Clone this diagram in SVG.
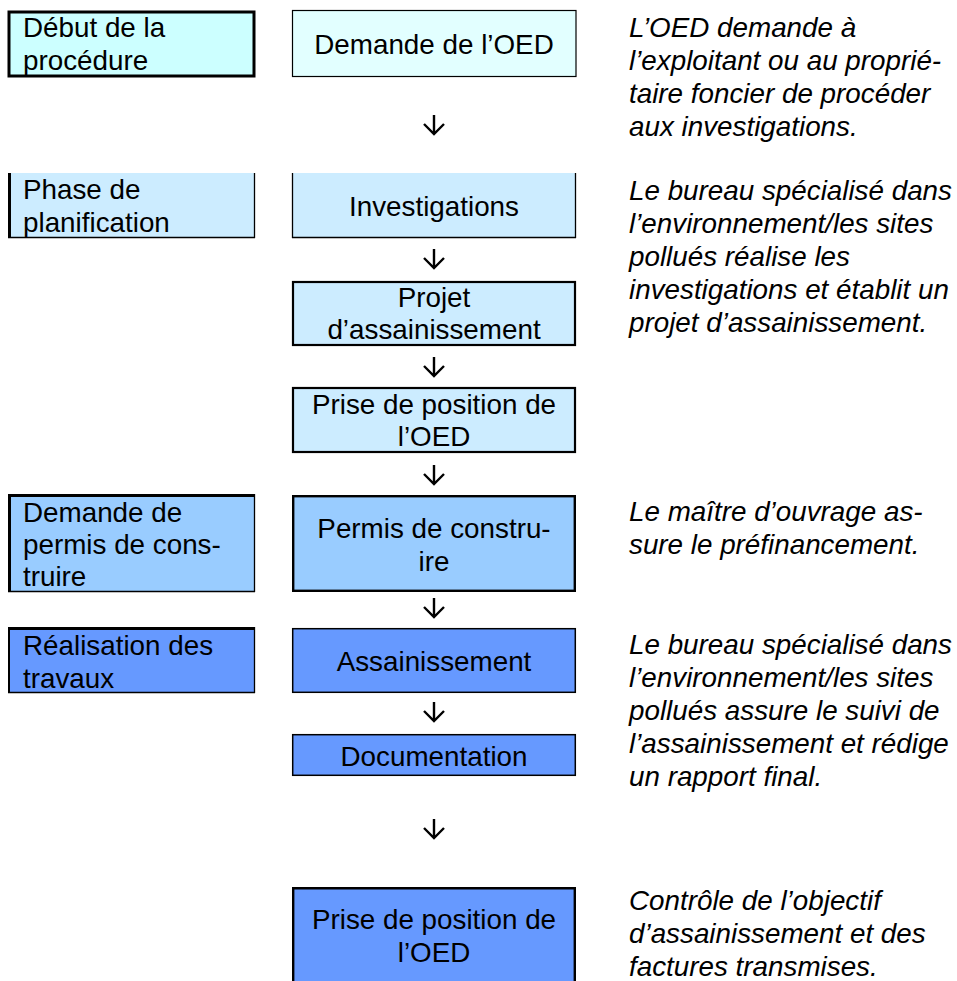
<svg xmlns="http://www.w3.org/2000/svg" width="957" height="981" viewBox="0 0 957 981">
<style>
text{font-family:"Liberation Sans",Arial,sans-serif;font-size:27.8px;fill:#000}
.c{text-anchor:middle}
.i{font-style:italic}
.b{fill:none;stroke:#000}
.c1{fill:#CCFFFF}.c0{fill:#E2FFFF}.c2{fill:#CCECFF}.c3{fill:#99CCFF}.c4{fill:#6699FF}
.arr{fill:none;stroke:#000;stroke-width:2.4}
</style>
<rect width="957" height="981" fill="#fff"/>
<g id="debut">
<rect class="c1" x="8" y="11" width="247" height="66"/>
<rect class="b" x="9" y="12" width="245" height="64" stroke-width="3"/>
<text x="23" y="37">Début de la</text><text x="23" y="70">procédure</text>
</g>
<g id="demande-oed">
<rect class="c0" x="292" y="10" width="284" height="67"/>
<rect class="b" x="292.5" y="10.5" width="283.5" height="66" stroke-width="1.2"/>
<text class="c" x="434" y="54">Demande de l’OED</text>
</g>
<g id="phase">
<rect class="c2" x="8" y="173" width="247" height="65"/>
<path class="b" d="M9.5,173V238" stroke-width="3"/><path class="b" d="M254.5,173V238M8,237.5H255" stroke-width="1.3"/>
<text x="23" y="199">Phase de</text><text x="23" y="232">planification</text>
</g>
<g id="investigations">
<rect class="c2" x="292" y="173" width="284" height="65"/>
<path class="b" d="M292.5,173V238M575.5,173V238M292,237.5H576" stroke-width="1.3"/>
<text class="c" x="434" y="216">Investigations</text>
</g>
<g id="projet">
<rect class="c2" x="292" y="281" width="284" height="65"/>
<rect class="b" x="293" y="282" width="282" height="63" stroke-width="2.2"/>
<text class="c" x="434" y="307">Projet</text><text class="c" x="434" y="339">d’assainissement</text>
</g>
<g id="prise1">
<rect class="c2" x="292" y="387" width="284" height="66"/>
<rect class="b" x="293" y="388" width="282" height="64" stroke-width="2.2"/>
<text class="c" x="434" y="414">Prise de position de</text><text class="c" x="434" y="446">l’OED</text>
</g>
<g id="demande-permis">
<rect class="c3" x="8" y="494" width="247" height="98"/>
<path class="b" d="M8,495.5H255M9.5,494V592" stroke-width="3"/><path class="b" d="M254.5,494V592M8,591.5H255" stroke-width="1.3"/>
<text x="23" y="522">Demande de</text><text x="23" y="554">permis de cons-</text><text x="23" y="586">truire</text>
</g>
<g id="permis">
<rect class="c3" x="292" y="495" width="284" height="97"/>
<rect class="b" x="293.2" y="496.2" width="281.6" height="94.6" stroke-width="2.4"/>
<text class="c" x="434" y="538">Permis de constru-</text><text class="c" x="434" y="571">ire</text>
</g>
<g id="realisation">
<rect class="c4" x="8" y="627" width="247" height="66"/>
<path class="b" d="M8,628.5H255" stroke-width="3"/><path class="b" d="M9,627V693" stroke-width="2"/><path class="b" d="M254.5,627V693M8,692.5H255" stroke-width="1.3"/>
<text x="23" y="655">Réalisation des</text><text x="23" y="688">travaux</text>
</g>
<g id="assainissement">
<rect class="c4" x="292" y="628" width="284" height="65"/>
<rect class="b" x="292.7" y="628.7" width="282.6" height="63.6" stroke-width="1.5"/>
<text class="c" x="434" y="671">Assainissement</text>
</g>
<g id="documentation">
<rect class="c4" x="292" y="734" width="284" height="42"/>
<rect class="b" x="292.7" y="734.7" width="282.6" height="40.6" stroke-width="1.5"/>
<text class="c" x="434" y="766">Documentation</text>
</g>
<g id="prise2">
<rect class="c4" x="292" y="887" width="284" height="94"/>
<path class="b" d="M293.2,981V888.2H574.8V981" stroke-width="2.4"/>
<text class="c" x="434" y="929">Prise de position de</text><text class="c" x="434" y="962">l’OED</text>
</g>
<g id="notes">
<text class="i"><tspan x="629" y="37">L’OED demande à</tspan><tspan x="629" y="70">l’exploitant ou au proprié-</tspan><tspan x="629" y="103">taire foncier de procéder</tspan><tspan x="629" y="136">aux investigations.</tspan></text>
<text class="i"><tspan x="629" y="200">Le bureau spécialisé dans</tspan><tspan x="629" y="233">l’environnement/les sites</tspan><tspan x="629" y="266">pollués réalise les</tspan><tspan x="629" y="299">investigations et établit un</tspan><tspan x="629" y="332">projet d’assainissement.</tspan></text>
<text class="i"><tspan x="629" y="521">Le maître d’ouvrage as-</tspan><tspan x="629" y="554">sure le préfinancement.</tspan></text>
<text class="i"><tspan x="629" y="654">Le bureau spécialisé dans</tspan><tspan x="629" y="687">l’environnement/les sites</tspan><tspan x="629" y="720">pollués assure le suivi de</tspan><tspan x="629" y="753">l’assainissement et rédige</tspan><tspan x="629" y="786">un rapport final.</tspan></text>
<text class="i"><tspan x="629" y="910">Contrôle de l’objectif</tspan><tspan x="629" y="943">d’assainissement et des</tspan><tspan x="629" y="976">factures transmises.</tspan></text>
</g>
<g id="connectors">
<path class="arr" d="M434,115V134M424,124L434,134L444,124"/>
<path class="arr" d="M434,249V268M424,258L434,268L444,258"/>
<path class="arr" d="M434,357V376M424,366L434,376L444,366"/>
<path class="arr" d="M434,465V484M424,474L434,484L444,474"/>
<path class="arr" d="M434,598V617M424,607L434,617L444,607"/>
<path class="arr" d="M434,702V721M424,711L434,721L444,711"/>
<path class="arr" d="M434,819V838M424,828L434,838L444,828"/>
</g>
</svg>
